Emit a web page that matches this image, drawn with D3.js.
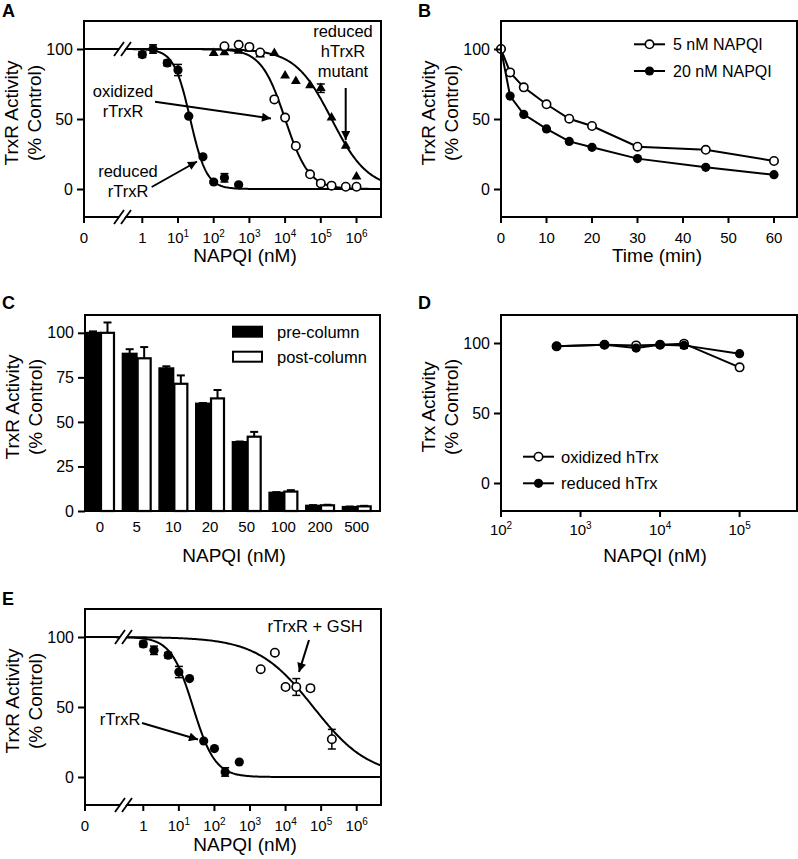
<!DOCTYPE html>
<html><head><meta charset="utf-8">
<script src="https://cdn.jsdelivr.net/npm/d3@7"></script>
<style>
body{margin:0;background:#fff}
svg{display:block}
text{font-family:"Liberation Sans",Arial,Helvetica,sans-serif;fill:#000}
</style>
</head><body>
<svg id="c" width="798" height="859"></svg>
<script>
// ---------------- DATA ----------------
// Panel A
const aRedX = [1, 2, 5, 10, 20, 50, 100, 200, 500];
const aRedY = [96, 100, 90, 85, 52, 23, 5, 8, 3];
const aRedE = [2, 3, 2, 4, 1, 1, 1, 3, 1];
const aOxX = [200, 500, 1000, 2000, 5000, 10000, 20000, 50000, 100000, 200000, 500000, 1000000];
const aOxY = [102, 103, 101.5, 97.5, 64, 51, 30.7, 10.5, 4, 2.4, 1.6, 1.6];
const aMutX = [100, 200, 500, 1000, 2000, 5000, 10000, 20000, 50000, 100000, 200000, 500000, 1000000];
const aMutY = [97, 97.6, 98.6, 100, 96, 97, 81, 77, 74, 72, 51, 30.7, 8.8];
const aMutE = [0, 0, 0, 0, 0, 0, 0, 0, 0, 3, 0, 0, 0];
const aFitNames = ["reduced rTrxR", "oxidized rTrxR", "reduced hTrxR mutant"];
const aFitIC50 = [22, 10000, 200000];
const aFitHill = [1.9, 1.3, 0.85];
// Panel B
const bTime = [0, 2, 5, 10, 15, 20, 30, 45, 60];
const b5nM = [100, 83.3, 72.6, 60.5, 50.2, 45, 30.2, 28, 20];
const b20nM = [100, 66.4, 53.3, 42.9, 34, 29.8, 21.7, 15.5, 10.2];
const bTicks = [0, 10, 20, 30, 40, 50, 60];
// Panel C
const cDoses = ["0", "5", "10", "20", "50", "100", "200", "500"];
const cPre = [100, 88.3, 80.1, 60.3, 38.7, 10.3, 3, 2.3];
const cPreErr = [0.8, 2.5, 1.1, 0.3, 0.3, 0.3, 0.3, 0.2];
const cPost = [100, 85.7, 71.4, 63.2, 41.7, 10.9, 3.2, 2.6];
const cPostErr = [5.8, 6.3, 4.7, 4.7, 2.7, 0.8, 0.3, 0.3];
const cYTicks = [0, 25, 50, 75, 100];
// Panel D
const dX = [500, 2000, 5000, 10000, 20000, 100000];
const dOx = [97.6, 98.8, 98.3, 98.8, 99.5, 82.6];
const dOxErr = [1.2, 0.5, 1, 0.5, 2, 0.5];
const dRed = [97.6, 98.8, 96.4, 98.8, 98.3, 92.4];
const dRedErr = [1.2, 0.5, 1.5, 0.5, 2, 0.5];
const dTickExps = [2, 3, 4, 5];
// Panel E
const eRX = [1, 2, 5, 10, 20, 50, 100, 200, 500];
const eRY = [95, 90.5, 87, 75, 70.3, 25.7, 20.3, 3.6, 10.7];
const eRE = [2, 3, 2, 4, 0, 0, 0, 3, 0];
const eGX = [2000, 5000, 10000, 20000, 50000, 200000];
const eGY = [77, 88.8, 64.3, 64.3, 63.4, 27];
const eGE = [0, 0, 1.5, 6, 2, 7];
const eFitIC50 = [25, 60000];
const eFitHill = [1.4, 0.55];
// shared
const logTickExps = [0, 1, 2, 3, 4, 5, 6];
const yTicks = [0, 50, 100];

// ---------------- HELPERS ----------------
const svg = d3.select("#c");
const FONT_TICK_Y = 16, FONT_TICK_X = 15, FONT_TITLE = 19, FONT_ANN = 16.5;

svg.append("defs").append("marker")
  .attr("id", "ah").attr("viewBox", "0 0 10 10").attr("refX", 10).attr("refY", 5)
  .attr("markerWidth", 10).attr("markerHeight", 9).attr("markerUnits", "userSpaceOnUse")
  .attr("orient", "auto")
  .append("path").attr("d", "M0,0 L10,5 L0,10 z").attr("fill", "#000");

function frame(p) {
  svg.append("rect").attr("x", p.l).attr("y", p.t).attr("width", p.r - p.l).attr("height", p.b - p.t)
    .attr("fill", "none").attr("stroke", "#000").attr("stroke-width", 2);
}
function clip(p, id) {
  svg.select("defs").append("clipPath").attr("id", id).append("rect")
    .attr("x", p.l).attr("y", p.t).attr("width", p.r - p.l).attr("height", p.b - p.t);
}
function yAxis(p, y, ticks) {
  const g = svg.append("g").attr("transform", `translate(${p.l},0)`)
    .call(d3.axisLeft(y).tickValues(ticks).tickSize(7).tickPadding(4).tickFormat(d3.format("d")));
  g.select(".domain").remove();
  g.selectAll(".tick line").attr("stroke-width", 2);
  g.selectAll(".tick text").attr("font-size", FONT_TICK_Y).attr("font-family", "Liberation Sans, Arial, sans-serif");
}
function yTitle(p, l1, l2) {
  const cy = (p.t + p.b) / 2 - 6;
  [[l1, p.l - 66], [l2, p.l - 43]].forEach(([t, x]) => {
    svg.append("text").attr("transform", `translate(${x},${cy}) rotate(-90)`)
      .attr("text-anchor", "middle").attr("font-size", FONT_TITLE).text(t);
  });
}
function xTitle(x, y, t) {
  svg.append("text").attr("x", x).attr("y", y).attr("text-anchor", "middle").attr("font-size", FONT_TITLE).text(t);
}
function panelLabel(x, y, t) {
  svg.append("text").attr("x", x).attr("y", y).attr("font-size", 18).attr("font-weight", "bold").text(t);
}
function xTick(px, yb) {
  svg.append("line").attr("x1", px).attr("x2", px).attr("y1", yb).attr("y2", yb + 6)
    .attr("stroke", "#000").attr("stroke-width", 2);
}
function powLabel(px, y, e) {
  const t = svg.append("text").attr("x", px).attr("y", y).attr("text-anchor", "middle").attr("font-size", FONT_TICK_X);
  if (e === 0) { t.text("1"); return; }
  t.append("tspan").text("10");
  t.append("tspan").attr("font-size", 10).attr("dy", -6).text(e);
}
function textLines(x, y0, lines, dy) {
  lines.forEach((s, i) => svg.append("text").attr("x", x).attr("y", y0 + i * dy)
    .attr("text-anchor", "middle").attr("font-size", FONT_ANN).text(s));
}
function arrow(x1, y1, x2, y2) {
  svg.append("line").attr("x1", x1).attr("y1", y1).attr("x2", x2).attr("y2", y2)
    .attr("stroke", "#000").attr("stroke-width", 2).attr("marker-end", "url(#ah)");
}
function errBars(g, xs, ys, es, x, y) {
  xs.forEach((v, i) => {
    const e = es[i]; if (!e) return;
    const px = x(v), y1 = y(ys[i] + e), y2 = y(ys[i] - e);
    g.append("line").attr("x1", px).attr("x2", px).attr("y1", y1).attr("y2", y2).attr("stroke", "#000").attr("stroke-width", 1.5);
    [y1, y2].forEach(yy => g.append("line").attr("x1", px - 4).attr("x2", px + 4).attr("y1", yy).attr("y2", yy).attr("stroke", "#000").attr("stroke-width", 1.5));
  });
}
function dots(g, xs, ys, x, y, shape) {
  xs.forEach((v, i) => {
    const px = x(v), py = y(ys[i]);
    if (shape === "tri") {
      g.append("path").attr("d", d3.symbol(d3.symbolTriangle, 42)()).attr("transform", `translate(${px},${py})`).attr("fill", "#000");
    } else if (shape === "open") {
      g.append("circle").attr("cx", px).attr("cy", py).attr("r", 4.2).attr("fill", "#fff").attr("stroke", "#000").attr("stroke-width", 1.6);
    } else {
      g.append("circle").attr("cx", px).attr("cy", py).attr("r", 4.6).attr("fill", "#000");
    }
  });
}
function fitCurve(g, x, y, ic50, hill, lo, hi) {
  const n = 300, pts = [];
  const l0 = Math.log10(lo), l1 = Math.log10(hi);
  for (let i = 0; i <= n; i++) {
    const v = Math.pow(10, l0 + (l1 - l0) * i / n);
    pts.push([x(v), y(100 / (1 + Math.pow(v / ic50, hill)))]);
  }
  g.append("path").attr("d", d3.line()(pts)).attr("fill", "none").attr("stroke", "#000").attr("stroke-width", 2);
}
function breakMark(cx, cy) {
  svg.append("path").attr("d", `M${cx - 9},${cy + 6} L${cx - 1},${cy - 6} L${cx + 5},${cy - 6} L${cx - 3},${cy + 6} Z`)
    .attr("fill", "#fff").attr("stroke", "none");
  [[cx - 10, cx - 2], [cx - 3, cx + 5]].forEach(([a, b]) =>
    svg.append("line").attr("x1", a).attr("y1", cy + 7).attr("x2", b + 2).attr("y2", cy - 7).attr("stroke", "#000").attr("stroke-width", 1.8));
}
function logPanel(p, one, dec, id) {
  const lo = Math.pow(10, (p.l - one) / dec), hi = Math.pow(10, (p.r - one) / dec);
  const x = d3.scaleLog().domain([lo, hi]).range([p.l, p.r]);
  clip(p, id);
  return { x, lo, hi };
}

// ---------------- PANEL A ----------------
const pA = { l: 84, t: 21, r: 381, b: 217 };
const yA = d3.scaleLinear().domain([-20, 120]).range([pA.b, pA.t]);
const A = logPanel(pA, 142.3, 35.7, "clipA");
const gA = svg.append("g").attr("clip-path", "url(#clipA)");
aFitIC50.forEach((ic, i) => fitCurve(gA, A.x, yA, ic, aFitHill[i], A.lo, A.hi));
breakMark(124, yA(100));
errBars(svg, aRedX, aRedY, aRedE, A.x, yA);
errBars(svg, aMutX, aMutY, aMutE, A.x, yA);
dots(svg, aRedX, aRedY, A.x, yA, "filled");
dots(svg, aMutX, aMutY, A.x, yA, "tri");
dots(svg, aOxX, aOxY, A.x, yA, "open");
frame(pA);
breakMark(124, pA.b);
yAxis(pA, yA, yTicks);
xTick(pA.l, pA.b);
svg.append("text").attr("x", pA.l).attr("y", pA.b + 26).attr("text-anchor", "middle").attr("font-size", FONT_TICK_X).text("0");
logTickExps.forEach(e => { const px = A.x(Math.pow(10, e)); xTick(px, pA.b); powLabel(px, pA.b + 26, e); });
yTitle(pA, "TrxR Activity", "(% Control)");
xTitle(245, 262, "NAPQI (nM)");
panelLabel(2, 17, "A");
textLines(343, 37, ["reduced", "hTrxR", "mutant"], 20);
arrow(345.7, 88, 345.7, 140);
textLines(123, 97, ["oxidized", "rTrxR"], 20);
arrow(155, 101.7, 271, 118.5);
textLines(128, 177, ["reduced", "rTrxR"], 20);
arrow(151.7, 187, 197, 161.5);

// ---------------- PANEL B ----------------
const pB = { l: 501, t: 21, r: 797, b: 217 };
const yB = d3.scaleLinear().domain([-20, 120]).range([pB.b, pB.t]);
const xB = d3.scaleLinear().domain([0, 60]).range([501, 774]);
const lineB = d3.line().x((d, i) => xB(bTime[i])).y(d => yB(d));
svg.append("path").attr("d", lineB(b5nM)).attr("fill", "none").attr("stroke", "#000").attr("stroke-width", 2);
svg.append("path").attr("d", lineB(b20nM)).attr("fill", "none").attr("stroke", "#000").attr("stroke-width", 2);
dots(svg, bTime, b20nM, xB, yB, "filled");
dots(svg, bTime, b5nM, xB, yB, "open");
frame(pB);
yAxis(pB, yB, yTicks);
bTicks.forEach(v => { xTick(xB(v), pB.b);
  svg.append("text").attr("x", xB(v)).attr("y", pB.b + 26).attr("text-anchor", "middle").attr("font-size", FONT_TICK_X).text(v); });
yTitle(pB, "TrxR Activity", "(% Control)");
xTitle(657, 262, "Time (min)");
panelLabel(418, 17, "B");
[["5 nM NAPQI", 44.3, "open"], ["20 nM NAPQI", 71, "filled"]].forEach(([t, yy, s]) => {
  svg.append("line").attr("x1", 634).attr("x2", 665).attr("y1", yy).attr("y2", yy).attr("stroke", "#000").attr("stroke-width", 2);
  dots(svg, [649.5], [0], v => v, () => yy, s);
  svg.append("text").attr("x", 673).attr("y", yy + 6).attr("font-size", 16).text(t);
});

// ---------------- PANEL C ----------------
const pC = { l: 85, t: 315, r: 380, b: 511 };
const yC = d3.scaleLinear().domain([0, 110]).range([pC.b, pC.t]);
const xC = d3.scaleBand().domain(cDoses).range([85, 371.7]).paddingInner(0.182).paddingOuter(0);
const bw = xC.bandwidth() / 2;
cDoses.forEach((d, i) => {
  const x0 = xC(d);
  svg.append("rect").attr("x", x0 + 1).attr("y", yC(cPre[i])).attr("width", bw - 1).attr("height", yC(0) - yC(cPre[i]))
    .attr("fill", "#000").attr("stroke", "#000").attr("stroke-width", 2);
  svg.append("rect").attr("x", x0 + bw + 1).attr("y", yC(cPost[i])).attr("width", bw - 2).attr("height", yC(0) - yC(cPost[i]))
    .attr("fill", "#fff").attr("stroke", "#000").attr("stroke-width", 2.2);
  [[x0 + bw / 2 + 0.5, cPre[i], cPreErr[i]], [x0 + bw * 1.5, cPost[i], cPostErr[i]]].forEach(([cx, v, e]) => {
    svg.append("line").attr("x1", cx).attr("x2", cx).attr("y1", yC(v)).attr("y2", yC(v + e)).attr("stroke", "#000").attr("stroke-width", 2);
    svg.append("line").attr("x1", cx - 4).attr("x2", cx + 4).attr("y1", yC(v + e)).attr("y2", yC(v + e)).attr("stroke", "#000").attr("stroke-width", 2);
  });
  svg.append("text").attr("x", x0 + bw).attr("y", pC.b + 21).attr("text-anchor", "middle").attr("font-size", FONT_TICK_X).text(d);
});
frame(pC);
yAxis(pC, yC, cYTicks);
yTitle(pC, "TrxR Activity", "(% Control)");
xTitle(234, 562, "NAPQI (nM)");
panelLabel(2, 309, "C");
[["pre-column", 326.7, "#000"], ["post-column", 351.7, "#fff"]].forEach(([t, yy, f]) => {
  svg.append("rect").attr("x", 233).attr("y", yy).attr("width", 29).attr("height", 10).attr("fill", f).attr("stroke", "#000").attr("stroke-width", 2);
  svg.append("text").attr("x", 277).attr("y", yy + 11).attr("font-size", 16.5).text(t);
});

// ---------------- PANEL D ----------------
const pD = { l: 501, t: 315, r: 797, b: 511 };
const yD = d3.scaleLinear().domain([-20, 120]).range([pD.b, pD.t]);
const decD = (739.3 - 500.7) / 3;
const xD = d3.scaleLog().domain([100, Math.pow(10, 2 + (pD.r - pD.l) / decD)]).range([pD.l, pD.r]);
const lineD = d3.line().x((d, i) => xD(dX[i])).y(d => yD(d));
svg.append("path").attr("d", lineD(dOx)).attr("fill", "none").attr("stroke", "#000").attr("stroke-width", 2);
svg.append("path").attr("d", lineD(dRed)).attr("fill", "none").attr("stroke", "#000").attr("stroke-width", 2);
errBars(svg, dX, dOx, dOxErr, xD, yD);
errBars(svg, dX, dRed, dRedErr, xD, yD);
dots(svg, dX, dOx, xD, yD, "open");
dots(svg, dX, dRed, xD, yD, "filled");
frame(pD);
yAxis(pD, yD, yTicks);
dTickExps.forEach(e => { const px = xD(Math.pow(10, e)); xTick(px, pD.b); powLabel(px, pD.b + 24, e); });
yTitle(pD, "Trx Activity", "(% Control)");
xTitle(655, 562, "NAPQI (nM)");
panelLabel(418, 309, "D");
[["oxidized hTrx", 456.7, "open"], ["reduced hTrx", 483.3, "filled"]].forEach(([t, yy, s]) => {
  svg.append("line").attr("x1", 523).attr("x2", 554).attr("y1", yy).attr("y2", yy).attr("stroke", "#000").attr("stroke-width", 2);
  dots(svg, [538.5], [0], v => v, () => yy, s);
  svg.append("text").attr("x", 561).attr("y", yy + 6).attr("font-size", 16.5).text(t);
});

// ---------------- PANEL E ----------------
const pE = { l: 85, t: 609, r: 381, b: 805 };
const yE = d3.scaleLinear().domain([-20, 120]).range([pE.b, pE.t]);
const E = logPanel(pE, 143.3, 35.57, "clipE");
const gE = svg.append("g").attr("clip-path", "url(#clipE)");
eFitIC50.forEach((ic, i) => fitCurve(gE, E.x, yE, ic, eFitHill[i], E.lo, E.hi));
breakMark(125, yE(100));
errBars(svg, eRX, eRY, eRE, E.x, yE);
errBars(svg, eGX, eGY, eGE, E.x, yE);
dots(svg, eRX, eRY, E.x, yE, "filled");
dots(svg, eGX, eGY, E.x, yE, "open");
frame(pE);
breakMark(125, pE.b);
yAxis(pE, yE, yTicks);
xTick(pE.l, pE.b);
svg.append("text").attr("x", pE.l).attr("y", pE.b + 26).attr("text-anchor", "middle").attr("font-size", FONT_TICK_X).text("0");
logTickExps.forEach(e => { const px = E.x(Math.pow(10, e)); xTick(px, pE.b); powLabel(px, pE.b + 26, e); });
yTitle(pE, "TrxR Activity", "(% Control)");
xTitle(245, 851, "NAPQI (nM)");
panelLabel(2, 605, "E");
textLines(315, 632, ["rTrxR + GSH"], 20);
arrow(309, 640, 299, 672);
textLines(120, 725, ["rTrxR"], 20);
arrow(142, 723, 198, 739.5);
</script>
</body></html>
